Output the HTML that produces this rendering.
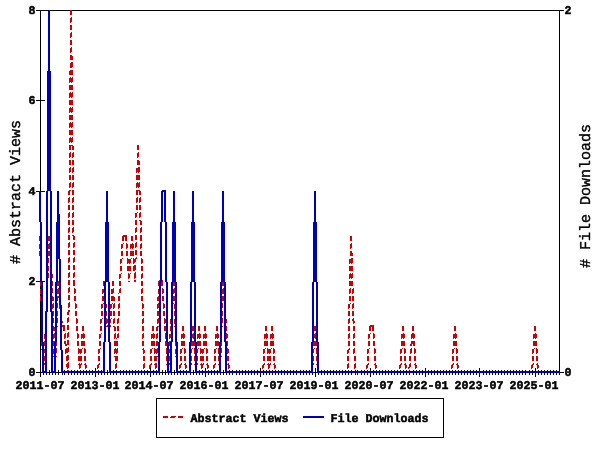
<!DOCTYPE html>
<html><head><meta charset="utf-8"><title>Usage chart</title>
<style>html,body{margin:0;padding:0;background:#fff}svg{display:block}text{text-rendering:geometricPrecision;font-family:"Liberation Mono",monospace;fill:#000;stroke:#000}.b{font-weight:bold;font-size:11.8px;stroke-width:.5px}.t{font-size:15px;stroke-width:.4px}</style></head><body>
<svg width="600" height="450" viewBox="0 0 600 450">
<rect width="600" height="450" fill="#fff"/>
<g shape-rendering="crispEdges" fill="#000">
<rect x="36" y="10" width="528" height="1"/>
<rect x="40" y="10" width="1" height="367"/>
<rect x="559" y="10" width="1" height="365"/>
<rect x="36" y="372" width="528" height="1"/>
<rect x="36" y="281" width="9" height="1"/>
<rect x="36" y="191" width="9" height="1"/>
<rect x="36" y="100" width="9" height="1"/>
<path d="M40.5 368v9M43.5 370v5M46.5 370v5M49.5 370v5M52.5 370v5M55.5 370v5M58.5 370v5M62.5 370v5M64.5 370v5M68.5 370v5M71.5 370v5M74.5 370v5M77.5 370v5M80.5 370v5M83.5 370v5M86.5 370v5M89.5 370v5M92.5 370v5M95.5 368v9M98.5 370v5M101.5 370v5M104.5 370v5M107.5 370v5M110.5 370v5M113.5 370v5M116.5 370v5M120.5 370v5M123.5 370v5M126.5 370v5M129.5 370v5M132.5 370v5M135.5 370v5M138.5 370v5M141.5 370v5M144.5 370v5M147.5 370v5M150.5 368v9M153.5 370v5M156.5 370v5M159.5 370v5M162.5 370v5M165.5 370v5M168.5 370v5M171.5 370v5M174.5 370v5M177.5 370v5M180.5 370v5M183.5 370v5M186.5 370v5M190.5 370v5M193.5 370v5M196.5 370v5M199.5 370v5M202.5 370v5M205.5 368v9M208.5 370v5M211.5 370v5M214.5 370v5M217.5 370v5M220.5 370v5M223.5 370v5M226.5 370v5M229.5 370v5M232.5 370v5M236.5 370v5M239.5 370v5M242.5 370v5M245.5 370v5M248.5 370v5M251.5 370v5M254.5 370v5M257.5 370v5M260.5 368v9M263.5 370v5M266.5 370v5M269.5 370v5M272.5 370v5M275.5 370v5M278.5 370v5M281.5 370v5M284.5 370v5M287.5 370v5M290.5 370v5M293.5 370v5M296.5 370v5M300.5 370v5M303.5 370v5M306.5 370v5M309.5 370v5M312.5 370v5M315.5 368v9M318.5 370v5M321.5 370v5M324.5 370v5M327.5 370v5M330.5 370v5M333.5 370v5M336.5 370v5M339.5 370v5M342.5 370v5M345.5 370v5M348.5 370v5M351.5 370v5M355.5 370v5M357.5 370v5M361.5 370v5M364.5 370v5M367.5 370v5M370.5 368v9M373.5 370v5M376.5 370v5M379.5 370v5M382.5 370v5M385.5 370v5M388.5 370v5M391.5 370v5M394.5 370v5M397.5 370v5M400.5 370v5M403.5 370v5M406.5 370v5M409.5 370v5M413.5 370v5M416.5 370v5M419.5 370v5M422.5 370v5M425.5 368v9M428.5 370v5M431.5 370v5M434.5 370v5M437.5 370v5M440.5 370v5M443.5 370v5M446.5 370v5M449.5 370v5M452.5 370v5M455.5 370v5M458.5 370v5M461.5 370v5M464.5 370v5M467.5 370v5M470.5 370v5M473.5 370v5M476.5 370v5M479.5 368v9M483.5 370v5M486.5 370v5M489.5 370v5M492.5 370v5M495.5 370v5M498.5 370v5M501.5 370v5M504.5 370v5M507.5 370v5M510.5 370v5M513.5 370v5M516.5 370v5M519.5 370v5M522.5 370v5M525.5 370v5M529.5 370v5M532.5 370v5M535.5 368v9M538.5 370v5M541.5 370v5M544.5 370v5M547.5 370v5M550.5 370v5M553.5 370v5M556.5 370v5M559.5 370v5" stroke="#000" stroke-width="1" fill="none"/>
</g>
<path shape-rendering="crispEdges" fill="none" stroke="#cc0000" stroke-width="1" d="M122 236.5h5M158 281.5h5M106 326.5h5M369 326.5h5M85 371.5h14M143 371.5h8M176 371.5h5M185 371.5h6M207 371.5h8M228 371.5h36M274 371.5h39M317 371.5h32M354 371.5h14M375 371.5h26M405 371.5h5M415 371.5h38M457 371.5h76M537 371.5h23M85 372.5h14M143 372.5h8M176 372.5h5M185 372.5h6M207 372.5h8M228 372.5h36M274 372.5h39M317 372.5h32M354 372.5h14M375 372.5h26M405 372.5h5M415 372.5h38M457 372.5h76M537 372.5h23M39.5 236v5M39.5 244v5M39.5 251v5M40.5 236v5M40.5 243v5M40.5 251v5M40.5 258v6M40.5 266v5M40.5 274v5M40.5 281v5M40.5 289v5M40.5 296v5M41.5 259v4M41.5 266v5M41.5 273v5M41.5 281v5M41.5 288v5M41.5 296v5M41.5 303v6M41.5 311v5M41.5 319v5M41.5 326v5M41.5 334v5M41.5 341v5M41.5 349v1M42.5 304v4M42.5 311v5M42.5 318v5M42.5 326v5M42.5 333v5M42.5 341v5M42.5 348v6M42.5 356v5M42.5 364v5M42.5 371v2M43.5 349v5M43.5 356v5M43.5 363v5M43.5 371v2M44.5 334v5M44.5 341v5M44.5 349v4M44.5 356v5M44.5 363v2M45.5 311v5M45.5 319v5M45.5 326v5M45.5 334v4M45.5 341v5M45.5 348v1M46.5 281v5M46.5 289v5M46.5 296v5M46.5 304v5M46.5 311v5M46.5 318v5M46.5 326v5M46.5 333v1M47.5 251v5M47.5 259v5M47.5 266v5M47.5 274v5M47.5 281v5M47.5 288v5M47.5 296v5M47.5 303v5M48.5 236v5M48.5 244v5M48.5 251v5M48.5 258v5M48.5 266v5M48.5 273v5M49.5 236v5M49.5 243v6M49.5 251v5M50.5 244v4M50.5 251v5M50.5 258v6M50.5 266v5M51.5 259v4M51.5 266v5M51.5 273v6M51.5 281v5M51.5 289v5M51.5 296v1M52.5 274v4M52.5 281v5M52.5 288v5M52.5 296v5M52.5 304v5M52.5 311v5M52.5 319v5M52.5 326v1M53.5 297v4M53.5 303v5M53.5 311v5M53.5 318v5M53.5 326v5M53.5 334v5M53.5 341v5M53.5 349v5M53.5 356v1M54.5 327v4M54.5 333v5M54.5 341v5M54.5 348v5M54.5 356v5M54.5 364v5M54.5 371v2M55.5 327v4M55.5 334v5M55.5 341v5M55.5 349v5M55.5 356v5M55.5 363v5M55.5 371v2M56.5 297v4M56.5 304v5M56.5 311v5M56.5 319v5M56.5 326v5M56.5 333v5M56.5 341v5M56.5 348v5M56.5 356v1M57.5 281v5M57.5 289v5M57.5 296v5M57.5 303v5M57.5 311v5M57.5 318v5M57.5 326v1M58.5 281v5M58.5 288v6M58.5 296v2M59.5 288v5M59.5 296v5M59.5 304v5M60.5 298v3M60.5 303v5M60.5 311v5M60.5 319v2M61.5 311v5M61.5 318v6M61.5 326v1M62.5 321v2M62.5 325v2M63.5 325v6M64.5 325v6M64.5 334v5M64.5 341v3M65.5 333v5M65.5 341v5M65.5 349v5M66.5 344v2M66.5 348v5M66.5 356v5M66.5 364v3M67.5 312v3M67.5 318v5M67.5 325v5M67.5 333v5M67.5 340v5M67.5 348v5M67.5 355v6M67.5 363v6M67.5 370v3M68.5 191v4M68.5 198v5M68.5 205v5M68.5 213v5M68.5 220v5M68.5 228v5M68.5 235v5M68.5 243v5M68.5 250v5M68.5 258v5M68.5 265v5M68.5 273v5M68.5 280v5M68.5 288v5M68.5 295v5M68.5 303v5M68.5 310v5M68.5 317v5M68.5 325v5M68.5 332v5M68.5 340v5M68.5 347v5M68.5 355v5M68.5 362v6M68.5 370v3M69.5 71v4M69.5 78v5M69.5 85v5M69.5 93v5M69.5 100v5M69.5 108v5M69.5 115v5M69.5 123v5M69.5 130v5M69.5 138v5M69.5 145v5M69.5 153v5M69.5 160v5M69.5 168v5M69.5 175v5M69.5 183v5M69.5 190v5M69.5 197v5M69.5 205v5M69.5 212v5M69.5 220v5M69.5 227v5M69.5 235v5M69.5 242v5M69.5 250v5M69.5 257v5M69.5 265v5M69.5 272v5M69.5 280v5M69.5 287v5M69.5 295v5M69.5 302v5M69.5 310v2M70.5 10v5M70.5 18v5M70.5 25v5M70.5 33v5M70.5 40v5M70.5 48v5M70.5 55v5M70.5 63v5M70.5 70v5M70.5 77v5M70.5 85v5M70.5 92v5M70.5 100v5M70.5 107v5M70.5 115v5M70.5 122v5M70.5 130v5M70.5 137v5M70.5 145v5M70.5 152v5M70.5 160v5M70.5 167v5M70.5 175v5M70.5 182v5M70.5 190v1M71.5 10v5M71.5 17v5M71.5 25v5M71.5 32v5M71.5 40v5M71.5 47v5M71.5 55v5M71.5 62v6M71.5 70v5M71.5 78v5M71.5 85v5M71.5 93v5M71.5 100v5M71.5 108v5M71.5 115v5M71.5 123v5M71.5 130v5M71.5 138v5M71.5 145v1M72.5 56v4M72.5 62v5M72.5 70v5M72.5 77v5M72.5 85v5M72.5 92v5M72.5 100v5M72.5 107v5M72.5 115v5M72.5 122v5M72.5 130v5M72.5 137v5M72.5 145v5M72.5 153v5M72.5 160v5M72.5 168v5M72.5 175v5M72.5 183v5M72.5 190v5M72.5 198v5M72.5 205v5M72.5 213v5M72.5 220v5M72.5 228v5M72.5 235v1M73.5 146v4M73.5 152v5M73.5 160v5M73.5 167v5M73.5 175v5M73.5 182v5M73.5 190v5M73.5 197v5M73.5 205v5M73.5 212v5M73.5 220v5M73.5 227v5M73.5 235v5M73.5 243v5M73.5 250v5M73.5 258v5M73.5 265v5M73.5 273v5M73.5 280v6M74.5 236v4M74.5 242v5M74.5 250v5M74.5 257v5M74.5 265v5M74.5 272v5M74.5 280v6M74.5 288v6M74.5 296v5M75.5 289v4M75.5 296v5M75.5 303v6M75.5 311v5M76.5 304v4M76.5 311v5M76.5 318v6M76.5 326v5M77.5 319v4M77.5 326v5M77.5 333v6M77.5 341v5M78.5 334v4M78.5 341v5M78.5 348v6M78.5 356v5M78.5 364v1M79.5 349v4M79.5 356v5M79.5 363v6M79.5 371v2M80.5 349v5M80.5 356v5M80.5 364v4M80.5 371v2M81.5 334v5M81.5 341v5M81.5 349v4M81.5 356v5M81.5 363v2M82.5 326v5M82.5 334v4M82.5 341v5M82.5 348v1M83.5 326v5M83.5 333v6M83.5 341v5M84.5 334v4M84.5 341v5M84.5 348v6M84.5 356v5M84.5 364v1M85.5 349v4M85.5 356v5M85.5 363v6M86.5 365v3M97.5 365v4M98.5 349v5M98.5 356v5M98.5 364v4M99.5 334v5M99.5 341v5M99.5 349v4M99.5 356v5M99.5 363v2M100.5 319v5M100.5 326v5M100.5 334v4M100.5 341v5M100.5 348v1M101.5 304v5M101.5 311v5M101.5 319v4M101.5 326v5M101.5 333v1M102.5 289v5M102.5 296v5M102.5 304v4M102.5 311v5M102.5 318v1M103.5 281v5M103.5 289v4M103.5 296v5M103.5 303v1M104.5 281v5M104.5 288v6M104.5 296v5M105.5 289v4M105.5 296v5M105.5 303v6M105.5 311v5M106.5 304v4M106.5 311v5M106.5 318v6M107.5 319v4M107.5 325v1M108.5 325v1M109.5 319v5M109.5 325v1M110.5 304v5M110.5 311v5M110.5 319v4M110.5 325v1M111.5 289v5M111.5 296v5M111.5 304v4M111.5 311v5M111.5 318v1M112.5 281v5M112.5 289v5M112.5 296v5M112.5 303v1M113.5 281v5M113.5 288v5M113.5 296v5M113.5 304v5M113.5 311v5M113.5 319v5M113.5 326v1M114.5 297v4M114.5 303v5M114.5 311v5M114.5 318v5M114.5 326v5M114.5 334v5M114.5 341v5M114.5 349v5M114.5 356v1M115.5 327v4M115.5 333v5M115.5 341v5M115.5 348v5M115.5 356v5M115.5 364v5M115.5 371v2M116.5 338v1M116.5 341v5M116.5 349v5M116.5 356v5M116.5 363v5M116.5 371v2M117.5 319v5M117.5 326v5M117.5 334v4M117.5 341v5M117.5 348v5M117.5 356v5M118.5 293v1M118.5 296v5M118.5 304v5M118.5 311v5M118.5 318v5M118.5 326v5M118.5 333v5M119.5 274v5M119.5 281v5M119.5 289v4M119.5 296v5M119.5 303v5M119.5 311v5M120.5 259v5M120.5 266v5M120.5 274v4M120.5 281v5M120.5 288v5M121.5 244v5M121.5 251v5M121.5 259v4M121.5 266v5M121.5 273v1M122.5 237v4M122.5 244v4M122.5 251v5M122.5 258v1M123.5 235v1M123.5 237v4M123.5 243v1M124.5 235v1M125.5 235v1M125.5 237v4M126.5 235v1M126.5 237v4M126.5 243v6M126.5 251v5M127.5 244v4M127.5 251v5M127.5 258v6M127.5 266v5M128.5 259v4M128.5 266v5M128.5 273v6M128.5 281v1M129.5 259v5M129.5 266v5M129.5 274v4M129.5 281v1M130.5 244v5M130.5 251v5M130.5 259v4M130.5 266v5M130.5 273v1M131.5 236v5M131.5 244v4M131.5 251v5M131.5 258v1M132.5 236v5M132.5 243v6M132.5 251v5M133.5 244v4M133.5 251v5M133.5 258v6M133.5 266v5M134.5 259v4M134.5 265v6M134.5 273v6M134.5 280v2M135.5 213v5M135.5 220v5M135.5 228v5M135.5 235v5M135.5 243v5M135.5 250v5M135.5 258v4M135.5 265v5M135.5 272v6M135.5 280v2M136.5 168v5M136.5 175v5M136.5 183v5M136.5 190v5M136.5 198v5M136.5 205v5M136.5 213v4M136.5 220v5M136.5 227v5M136.5 235v5M136.5 242v5M136.5 250v5M136.5 257v2M137.5 145v5M137.5 153v5M137.5 160v5M137.5 168v4M137.5 175v5M137.5 182v5M137.5 190v5M137.5 197v5M137.5 205v5M137.5 212v1M138.5 145v5M138.5 152v5M138.5 160v5M138.5 167v6M138.5 175v5M138.5 183v5M138.5 190v1M139.5 161v4M139.5 167v5M139.5 175v5M139.5 182v5M139.5 190v5M139.5 198v5M139.5 205v5M139.5 213v5M139.5 220v1M140.5 191v4M140.5 197v5M140.5 205v5M140.5 212v5M140.5 220v5M140.5 228v5M140.5 235v6M140.5 244v5M140.5 251v5M141.5 221v4M141.5 227v5M141.5 235v6M141.5 243v5M141.5 251v5M141.5 258v6M141.5 266v5M141.5 274v5M141.5 281v5M141.5 289v5M141.5 296v5M142.5 259v4M142.5 266v5M142.5 273v5M142.5 281v5M142.5 288v5M142.5 296v5M142.5 303v6M142.5 311v5M142.5 319v5M142.5 326v5M142.5 334v5M142.5 341v5M142.5 349v1M143.5 304v4M143.5 311v5M143.5 318v5M143.5 326v5M143.5 333v5M143.5 341v5M143.5 348v6M143.5 356v5M143.5 364v5M144.5 350v3M144.5 356v5M144.5 363v5M149.5 365v4M150.5 349v5M150.5 356v5M150.5 364v4M151.5 334v5M151.5 341v5M151.5 349v4M151.5 356v5M151.5 363v2M152.5 326v5M152.5 334v4M152.5 341v5M152.5 348v1M153.5 326v5M153.5 333v6M153.5 341v5M154.5 334v4M154.5 341v5M154.5 348v6M154.5 356v5M154.5 364v1M155.5 349v4M155.5 356v5M155.5 363v6M155.5 371v2M156.5 327v4M156.5 334v5M156.5 341v5M156.5 349v5M156.5 356v5M156.5 363v5M156.5 371v2M157.5 297v4M157.5 304v5M157.5 311v5M157.5 319v5M157.5 326v5M157.5 333v5M157.5 341v5M157.5 348v5M157.5 356v1M158.5 282v4M158.5 289v5M158.5 296v5M158.5 303v5M158.5 311v5M158.5 318v5M158.5 326v1M159.5 280v1M159.5 282v4M159.5 288v5M159.5 296v1M160.5 280v1M161.5 280v1M161.5 282v4M162.5 280v1M162.5 282v4M162.5 288v6M162.5 296v5M163.5 289v4M163.5 296v5M163.5 303v6M163.5 311v5M164.5 304v4M164.5 311v5M164.5 318v6M164.5 326v5M165.5 319v4M165.5 326v5M165.5 333v6M165.5 341v5M166.5 334v4M166.5 341v5M166.5 348v6M166.5 356v5M166.5 364v1M167.5 349v4M167.5 356v5M167.5 363v6M167.5 371v2M168.5 349v5M168.5 356v5M168.5 364v4M168.5 371v2M169.5 334v5M169.5 341v5M169.5 349v4M169.5 356v5M169.5 363v2M170.5 319v5M170.5 326v5M170.5 334v4M170.5 341v5M170.5 348v1M171.5 304v5M171.5 311v5M171.5 319v4M171.5 326v5M171.5 333v1M172.5 289v5M172.5 296v5M172.5 304v4M172.5 311v5M172.5 318v1M173.5 281v5M173.5 289v5M173.5 296v5M173.5 303v1M174.5 281v5M174.5 288v5M174.5 296v5M174.5 304v5M174.5 311v5M174.5 319v5M174.5 326v1M175.5 297v4M175.5 303v5M175.5 311v5M175.5 318v5M175.5 326v5M175.5 334v5M175.5 341v5M175.5 349v5M175.5 356v1M176.5 327v4M176.5 333v5M176.5 341v5M176.5 348v5M176.5 356v5M176.5 364v5M177.5 357v4M177.5 363v5M179.5 365v4M180.5 349v5M180.5 356v5M180.5 364v4M181.5 334v5M181.5 341v5M181.5 349v4M181.5 356v5M181.5 363v2M182.5 326v5M182.5 334v4M182.5 341v5M182.5 348v1M183.5 326v5M183.5 333v6M183.5 341v5M184.5 334v4M184.5 341v5M184.5 348v6M184.5 356v5M184.5 364v1M185.5 349v4M185.5 356v5M185.5 363v6M186.5 365v3M189.5 365v4M190.5 349v5M190.5 356v5M190.5 364v4M191.5 334v5M191.5 341v5M191.5 349v4M191.5 356v5M191.5 363v2M192.5 326v5M192.5 334v4M192.5 341v5M192.5 348v1M193.5 326v5M193.5 333v6M193.5 341v5M194.5 334v4M194.5 341v5M194.5 348v6M194.5 356v5M194.5 364v1M195.5 349v4M195.5 356v5M195.5 363v6M195.5 371v2M196.5 349v5M196.5 356v5M196.5 364v4M196.5 371v2M197.5 334v5M197.5 341v5M197.5 349v4M197.5 356v5M197.5 363v2M198.5 326v5M198.5 334v4M198.5 341v5M198.5 348v1M199.5 326v5M199.5 333v6M199.5 341v5M200.5 334v4M200.5 341v5M200.5 348v6M200.5 356v5M200.5 364v1M201.5 349v4M201.5 356v5M201.5 363v6M201.5 371v2M202.5 349v5M202.5 356v5M202.5 364v4M202.5 371v2M203.5 334v5M203.5 341v5M203.5 349v4M203.5 356v5M203.5 363v2M204.5 326v5M204.5 334v4M204.5 341v5M204.5 348v1M205.5 326v5M205.5 333v6M205.5 341v5M206.5 334v4M206.5 341v5M206.5 348v6M206.5 356v5M206.5 364v1M207.5 349v4M207.5 356v5M207.5 363v6M208.5 365v3M213.5 365v4M214.5 349v5M214.5 356v5M214.5 364v4M215.5 334v5M215.5 341v5M215.5 349v4M215.5 356v5M215.5 363v2M216.5 326v5M216.5 334v4M216.5 341v5M216.5 348v1M217.5 326v5M217.5 333v6M217.5 341v5M218.5 334v4M218.5 341v5M218.5 348v6M218.5 356v5M218.5 364v1M219.5 349v4M219.5 356v5M219.5 363v6M219.5 371v2M220.5 327v4M220.5 334v5M220.5 341v5M220.5 349v5M220.5 356v5M220.5 363v5M220.5 371v2M221.5 297v4M221.5 304v5M221.5 311v5M221.5 319v5M221.5 326v5M221.5 333v5M221.5 341v5M221.5 348v5M221.5 356v1M222.5 281v5M222.5 289v5M222.5 296v5M222.5 303v5M222.5 311v5M222.5 318v5M222.5 326v1M223.5 281v5M223.5 288v6M223.5 296v5M224.5 289v4M224.5 296v5M224.5 303v6M224.5 311v5M225.5 304v4M225.5 311v5M225.5 318v6M225.5 326v5M226.5 319v4M226.5 326v5M226.5 333v6M226.5 341v5M227.5 334v4M227.5 341v5M227.5 348v6M227.5 356v5M227.5 364v1M228.5 349v4M228.5 356v5M228.5 363v6M229.5 365v3M262.5 365v4M263.5 349v5M263.5 356v5M263.5 364v4M264.5 334v5M264.5 341v5M264.5 349v4M264.5 356v5M264.5 363v2M265.5 326v5M265.5 334v4M265.5 341v5M265.5 348v1M266.5 326v5M266.5 333v6M266.5 341v5M267.5 334v4M267.5 341v5M267.5 348v6M267.5 356v5M267.5 364v1M268.5 349v4M268.5 356v5M268.5 363v6M268.5 371v2M269.5 349v5M269.5 356v5M269.5 364v4M269.5 371v2M270.5 334v5M270.5 341v5M270.5 349v4M270.5 356v5M270.5 363v2M271.5 326v5M271.5 334v4M271.5 341v5M271.5 348v1M272.5 326v5M272.5 333v6M272.5 341v5M273.5 334v4M273.5 341v5M273.5 348v6M273.5 356v5M273.5 364v1M274.5 349v4M274.5 356v5M274.5 363v6M275.5 365v3M311.5 365v4M312.5 349v5M312.5 356v5M312.5 364v4M313.5 334v5M313.5 341v5M313.5 349v4M313.5 356v5M313.5 363v2M314.5 326v5M314.5 334v4M314.5 341v5M314.5 348v1M315.5 326v5M315.5 333v6M315.5 341v5M316.5 334v4M316.5 341v5M316.5 348v6M316.5 356v5M316.5 364v1M317.5 349v4M317.5 356v5M317.5 363v6M318.5 365v3M347.5 350v4M347.5 356v5M347.5 364v5M348.5 304v5M348.5 311v5M348.5 319v5M348.5 326v5M348.5 334v5M348.5 341v5M348.5 349v4M348.5 356v5M348.5 363v5M349.5 259v5M349.5 266v5M349.5 274v5M349.5 281v5M349.5 289v5M349.5 296v5M349.5 304v4M349.5 311v5M349.5 318v5M349.5 326v5M349.5 333v5M349.5 341v5M349.5 348v2M350.5 236v5M350.5 244v5M350.5 251v5M350.5 259v4M350.5 266v5M350.5 273v5M350.5 281v5M350.5 288v5M350.5 296v5M350.5 303v1M351.5 236v5M351.5 243v5M351.5 251v5M351.5 258v6M351.5 266v5M351.5 274v5M351.5 281v5M352.5 253v3M352.5 258v5M352.5 266v5M352.5 273v5M352.5 281v5M352.5 289v5M352.5 296v5M352.5 304v5M352.5 311v5M352.5 319v2M353.5 288v5M353.5 296v5M353.5 303v5M353.5 311v5M353.5 318v6M353.5 326v5M353.5 334v5M353.5 341v5M353.5 349v5M354.5 321v2M354.5 326v5M354.5 333v5M354.5 341v5M354.5 348v5M354.5 356v5M354.5 364v5M355.5 356v5M355.5 363v5M366.5 365v4M367.5 349v5M367.5 356v5M367.5 364v4M368.5 334v5M368.5 341v5M368.5 349v4M368.5 356v5M368.5 363v2M369.5 327v4M369.5 334v4M369.5 341v5M369.5 348v1M370.5 325v1M370.5 327v4M370.5 333v1M371.5 325v1M372.5 325v1M372.5 327v4M373.5 325v1M373.5 327v4M373.5 333v6M373.5 341v5M374.5 334v4M374.5 341v5M374.5 348v6M374.5 356v5M374.5 364v1M375.5 349v4M375.5 356v5M375.5 363v6M376.5 365v3M399.5 365v4M400.5 349v5M400.5 356v5M400.5 364v4M401.5 334v5M401.5 341v5M401.5 349v4M401.5 356v5M401.5 363v2M402.5 326v5M402.5 334v4M402.5 341v5M402.5 348v1M403.5 326v5M403.5 333v6M403.5 341v5M404.5 334v4M404.5 341v5M404.5 348v6M404.5 356v5M404.5 364v1M405.5 349v4M405.5 356v5M405.5 363v6M406.5 365v3M408.5 367v2M409.5 356v5M409.5 364v4M410.5 344v2M410.5 349v5M410.5 356v5M410.5 363v4M411.5 334v5M411.5 341v5M411.5 348v5M412.5 326v5M412.5 333v5M412.5 341v3M413.5 326v5M413.5 333v6M413.5 341v5M414.5 334v4M414.5 341v5M414.5 348v6M414.5 356v5M414.5 364v1M415.5 349v4M415.5 356v5M415.5 363v6M416.5 365v3M451.5 365v4M452.5 349v5M452.5 356v5M452.5 364v4M453.5 334v5M453.5 341v5M453.5 349v4M453.5 356v5M453.5 363v2M454.5 326v5M454.5 334v4M454.5 341v5M454.5 348v1M455.5 326v5M455.5 333v6M455.5 341v5M456.5 334v4M456.5 341v5M456.5 348v6M456.5 356v5M456.5 364v1M457.5 349v4M457.5 356v5M457.5 363v6M458.5 365v3M531.5 365v4M532.5 349v5M532.5 356v5M532.5 364v4M533.5 334v5M533.5 341v5M533.5 349v4M533.5 356v5M533.5 363v2M534.5 326v5M534.5 334v4M534.5 341v5M534.5 348v1M535.5 326v5M535.5 333v6M535.5 341v5M536.5 334v4M536.5 341v5M536.5 348v6M536.5 356v5M536.5 364v1M537.5 349v4M537.5 356v5M537.5 363v6M538.5 365v3"/>
<path shape-rendering="crispEdges" fill="none" stroke="#0000bb" stroke-width="1" d="M161 191.5h5M42 371.5h5M51 371.5h5M61 371.5h44M109 371.5h51M167 371.5h5M176 371.5h15M195 371.5h26M225 371.5h88M317 371.5h243M42 372.5h5M51 372.5h5M61 372.5h44M109 372.5h51M167 372.5h5M176 372.5h15M195 372.5h26M225 372.5h88M317 372.5h243M39.5 191v31M40.5 191v91M41.5 222v120M42.5 282v89M43.5 342v29M45.5 312v59M46.5 191v180M47.5 71v241M48.5 10v181M49.5 10v181M50.5 71v241M51.5 191v180M52.5 312v59M54.5 342v29M55.5 282v89M56.5 222v120M57.5 191v91M58.5 191v68M59.5 214v91M60.5 259v91M61.5 305v66M62.5 350v21M103.5 342v29M104.5 282v89M105.5 222v120M106.5 191v91M107.5 191v91M108.5 222v120M109.5 282v89M110.5 342v29M158.5 342v29M159.5 282v89M160.5 222v120M161.5 192v90M162.5 190v1M162.5 192v30M163.5 190v1M164.5 190v1M164.5 192v30M165.5 190v1M165.5 192v90M166.5 222v120M167.5 282v89M168.5 342v29M170.5 342v29M171.5 282v89M172.5 222v120M173.5 191v91M174.5 191v91M175.5 222v120M176.5 282v89M177.5 342v29M189.5 342v29M190.5 282v89M191.5 222v120M192.5 191v91M193.5 191v91M194.5 222v120M195.5 282v89M196.5 342v29M219.5 342v29M220.5 282v89M221.5 222v120M222.5 191v91M223.5 191v91M224.5 222v120M225.5 282v89M226.5 342v29M311.5 342v29M312.5 282v89M313.5 222v120M314.5 191v91M315.5 191v91M316.5 222v120M317.5 282v89M318.5 342v29"/>
<text class="b" x="28.5" y="375.8" textLength="7" lengthAdjust="spacingAndGlyphs">0</text>
<text class="b" x="28.5" y="284.8" textLength="7" lengthAdjust="spacingAndGlyphs">2</text>
<text class="b" x="28.5" y="194.8" textLength="7" lengthAdjust="spacingAndGlyphs">4</text>
<text class="b" x="28.5" y="103.8" textLength="7" lengthAdjust="spacingAndGlyphs">6</text>
<text class="b" x="28.5" y="13.8" textLength="7" lengthAdjust="spacingAndGlyphs">8</text>
<text class="b" x="564.5" y="13.8" textLength="7" lengthAdjust="spacingAndGlyphs">2</text>
<text class="b" x="564.5" y="375.8" textLength="7" lengthAdjust="spacingAndGlyphs">0</text>
<text class="b" x="15.5" y="388.8" textLength="49" lengthAdjust="spacingAndGlyphs">2011-07</text>
<text class="b" x="70.5" y="388.8" textLength="49" lengthAdjust="spacingAndGlyphs">2013-01</text>
<text class="b" x="124.5" y="388.8" textLength="49" lengthAdjust="spacingAndGlyphs">2014-07</text>
<text class="b" x="179.5" y="388.8" textLength="49" lengthAdjust="spacingAndGlyphs">2016-01</text>
<text class="b" x="234.5" y="388.8" textLength="49" lengthAdjust="spacingAndGlyphs">2017-07</text>
<text class="b" x="289.5" y="388.8" textLength="49" lengthAdjust="spacingAndGlyphs">2019-01</text>
<text class="b" x="344.5" y="388.8" textLength="49" lengthAdjust="spacingAndGlyphs">2020-07</text>
<text class="b" x="399.5" y="388.8" textLength="49" lengthAdjust="spacingAndGlyphs">2022-01</text>
<text class="b" x="454.5" y="388.8" textLength="49" lengthAdjust="spacingAndGlyphs">2023-07</text>
<text class="b" x="509.5" y="388.8" textLength="49" lengthAdjust="spacingAndGlyphs">2025-01</text>
<text class="t" transform="translate(20,264) rotate(-90)" textLength="144" lengthAdjust="spacingAndGlyphs"># Abstract Views</text>
<text class="t" transform="translate(590,268) rotate(-90)" textLength="144" lengthAdjust="spacingAndGlyphs"># File Downloads</text>
<g shape-rendering="crispEdges"><rect x="156.5" y="398.5" width="287" height="39" fill="#fff" stroke="#000" stroke-width="1"/>
<path fill="none" stroke="#cc0000" stroke-width="1" d="M163 416.5h5M171 416.5h5M178 416.5h5M163 417.5h5M170 417.5h5M178 417.5h5"/>
<rect x="303" y="416" width="21" height="2" fill="#0000bb"/></g>
<text class="b" x="190.5" y="421.8" textLength="98" lengthAdjust="spacingAndGlyphs">Abstract Views</text>
<text class="b" x="330.5" y="421.8" textLength="98" lengthAdjust="spacingAndGlyphs">File Downloads</text>
</svg></body></html>
